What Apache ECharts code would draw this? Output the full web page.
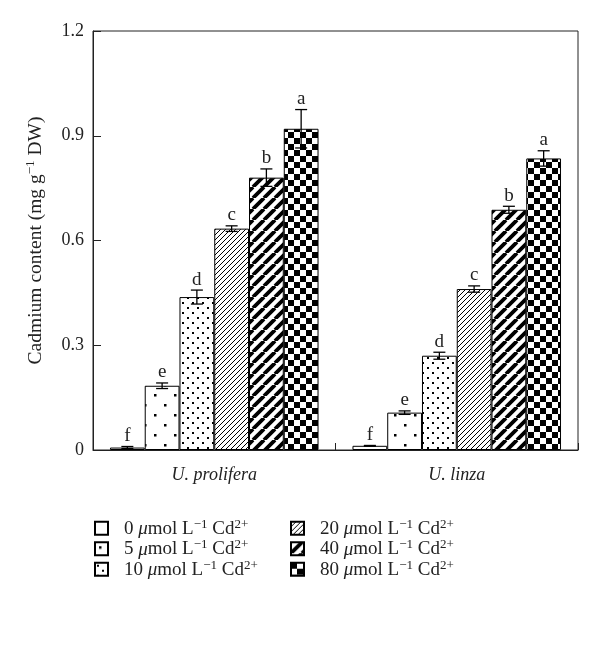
<!DOCTYPE html>
<html>
<head>
<meta charset="utf-8">
<script src="https://cdn.jsdelivr.net/npm/echarts@6/dist/echarts.min.js"></script>
<style>
html,body{margin:0;padding:0;background:#fff;}
#chart{width:600px;height:656px;}
</style>
</head>
<body>
<div id="chart"></div>
<script>
// ---- Data ----
const categories = ['U. prolifera', 'U. linza'];
const concentrations = ['0', '5', '10', '20', '40', '80'];
const means0  = [0.007, 0.012];
const means5  = [0.184, 0.107];
const means10 = [0.438, 0.270];
const means20 = [0.634, 0.461];
const means40 = [0.780, 0.688];
const means80 = [0.920, 0.835];
const err0  = [0.003, 0.001];
const err5  = [0.008, 0.005];
const err10 = [0.020, 0.010];
const err20 = [0.008, 0.009];
const err40 = [0.025, 0.010];
const err80 = [0.055, 0.022];
const letters = ['f', 'e', 'd', 'c', 'b', 'a'];
const yTicks = [0, 0.3, 0.6, 0.9, 1.2];

const allMeans = [means0, means5, means10, means20, means40, means80];
const allErrs = [err0, err5, err10, err20, err40, err80];

// ---- Patterns ----
function makeCanvas(w, h, draw) {
  const c = document.createElement('canvas');
  c.width = w; c.height = h;
  const ctx = c.getContext('2d');
  ctx.fillStyle = '#fff';
  ctx.fillRect(0, 0, w, h);
  ctx.fillStyle = '#000';
  ctx.strokeStyle = '#000';
  draw(ctx, w, h);
  return c;
}
function diag(ctx, w, h, lw) {
  ctx.lineWidth = lw;
  ctx.beginPath();
  for (let k = -1; k <= 1; k++) {
    ctx.moveTo(k * w, h);
    ctx.lineTo(k * w + w, 0);
  }
  ctx.stroke();
}
const patterns = [
  '#ffffff',
  { image: makeCanvas(20, 20, (ctx) => { ctx.fillRect(4, 4, 2.5, 2.5); ctx.fillRect(14, 14, 2.5, 2.5); }), repeat: 'repeat' },
  { image: makeCanvas(10, 10, (ctx) => { ctx.fillRect(2, 2, 2, 2); ctx.fillRect(7, 7, 2, 2); }), repeat: 'repeat' },
  { image: makeCanvas(5, 5, (ctx, w, h) => diag(ctx, w, h, 1.0)), repeat: 'repeat' },
  { image: makeCanvas(11, 11, (ctx, w, h) => diag(ctx, w, h, 3.8)), repeat: 'repeat' },
  { image: makeCanvas(12, 12, (ctx) => { ctx.fillRect(0, 0, 6, 6); ctx.fillRect(6, 6, 6, 6); }), repeat: 'repeat' }
];

const FONT = 'Liberation Serif';
const CAT_GAP = 0.14;
const N = concentrations.length;

const seriesNames = concentrations.map(c => c + ' μmol');

const legendRich = {
  n: { fontFamily: FONT, fontSize: 19, color: '#222', lineHeight: 20.5, verticalAlign: 'bottom' },
  m: { fontFamily: FONT, fontSize: 19, color: '#222', fontStyle: 'italic', lineHeight: 20.5, verticalAlign: 'bottom' },
  s: { fontFamily: FONT, fontSize: 13, color: '#222', lineHeight: 20.5, verticalAlign: 'top' }
};
function legendFmt(name) {
  const c = name.split(' ')[0];
  return '{n|' + c + ' }{m|μ}{n|mol L}{s|−1}{n| Cd}{s|2+}';
}

const barSeries = concentrations.map((c, i) => ({
  name: seriesNames[i],
  type: 'bar',
  data: allMeans[i],
  barGap: '0%',
  barCategoryGap: (CAT_GAP * 100) + '%',
  itemStyle: { color: patterns[i], borderColor: '#000', borderWidth: 1 },
  emphasis: { disabled: true },
  silent: true,
  z: 2
}));

const errData = [];
concentrations.forEach((c, i) => {
  categories.forEach((cat, j) => {
    errData.push([j, allMeans[i][j], allErrs[i][j], i]);
  });
});

const errSeries = {
  type: 'custom',
  silent: true,
  z: 5,
  data: errData,
  encode: { x: 0, y: 1 },
  renderItem: function (params, api) {
    const j = api.value(0), v = api.value(1), e = api.value(2), i = api.value(3);
    const band = api.size([1, 0])[0];
    const barW = band * (1 - CAT_GAP) / N;
    const cx = api.coord([j, 0])[0] - band * (1 - CAT_GAP) / 2 + (i + 0.5) * barW;
    const yTop = api.coord([j, v + e])[1];
    const yBot = api.coord([j, Math.max(v - e, 0)])[1];
    const cap = 6;
    const st = { stroke: '#000', lineWidth: 1.3 };
    return {
      type: 'group',
      children: [
        { type: 'line', shape: { x1: cx, y1: yTop, x2: cx, y2: yBot }, style: st },
        { type: 'line', shape: { x1: cx - cap, y1: yTop, x2: cx + cap, y2: yTop }, style: st },
        { type: 'line', shape: { x1: cx - cap, y1: yBot, x2: cx + cap, y2: yBot }, style: st },
        { type: 'text', x: cx, y: yTop - 1, style: { text: letters[i], fill: '#222', font: '19px "' + FONT + '"', textAlign: 'center', textVerticalAlign: 'bottom' } }
      ]
    };
  }
};

const legendCommon = {
  orient: 'vertical', top: 518, padding: 0,
  itemWidth: 13, itemHeight: 13, itemGap: 0, icon: 'rect',
  formatter: legendFmt, textStyle: { rich: legendRich, padding: [0, 0, 0, 11] }, selectedMode: false
};

const chart = echarts.init(document.getElementById('chart'), null, { renderer: 'canvas' });
chart.setOption({
  animation: false,
  backgroundColor: '#fff',
  grid: { left: 93, right: 22, top: 31, bottom: 206, show: true, borderColor: '#222', borderWidth: 1, backgroundColor: 'transparent' },
  legend: [
    Object.assign({ data: seriesNames.slice(0, 3), left: 94 }, legendCommon),
    Object.assign({ data: seriesNames.slice(3, 6), left: 290 }, legendCommon)
  ],
  xAxis: {
    type: 'category',
    data: categories,
    axisLine: { show: true, lineStyle: { color: '#222', width: 1 } },
    axisTick: { show: true, inside: true, length: 7, alignWithLabel: false, lineStyle: { color: '#222' } },
    axisLabel: { fontFamily: FONT, fontSize: 18, fontStyle: 'italic', color: '#222', margin: 16 }
  },
  yAxis: {
    type: 'value',
    min: 0, max: 1.2, interval: 0.3,
    name: '{n|Cadmium content (mg g}{s|−1}{n| DW)}',
    nameLocation: 'middle',
    nameGap: 47,
    nameTextStyle: {
      rich: {
        n: { fontFamily: FONT, fontSize: 19.5, color: '#222', lineHeight: 22, verticalAlign: 'bottom' },
        s: { fontFamily: FONT, fontSize: 13, color: '#222', lineHeight: 22, verticalAlign: 'top' }
      }
    },
    splitLine: { show: false },
    axisLine: { show: true, lineStyle: { color: '#222', width: 1 } },
    axisTick: { show: true, inside: true, length: 8, lineStyle: { color: '#222' } },
    axisLabel: {
      fontFamily: FONT, fontSize: 18, color: '#222', margin: 9,
      formatter: function (v) { const t = yTicks.find(x => Math.abs(x - v) < 1e-9); return t === undefined ? '' : String(t); }
    }
  },
  series: barSeries.concat([errSeries])
});
</script>
</body>
</html>
